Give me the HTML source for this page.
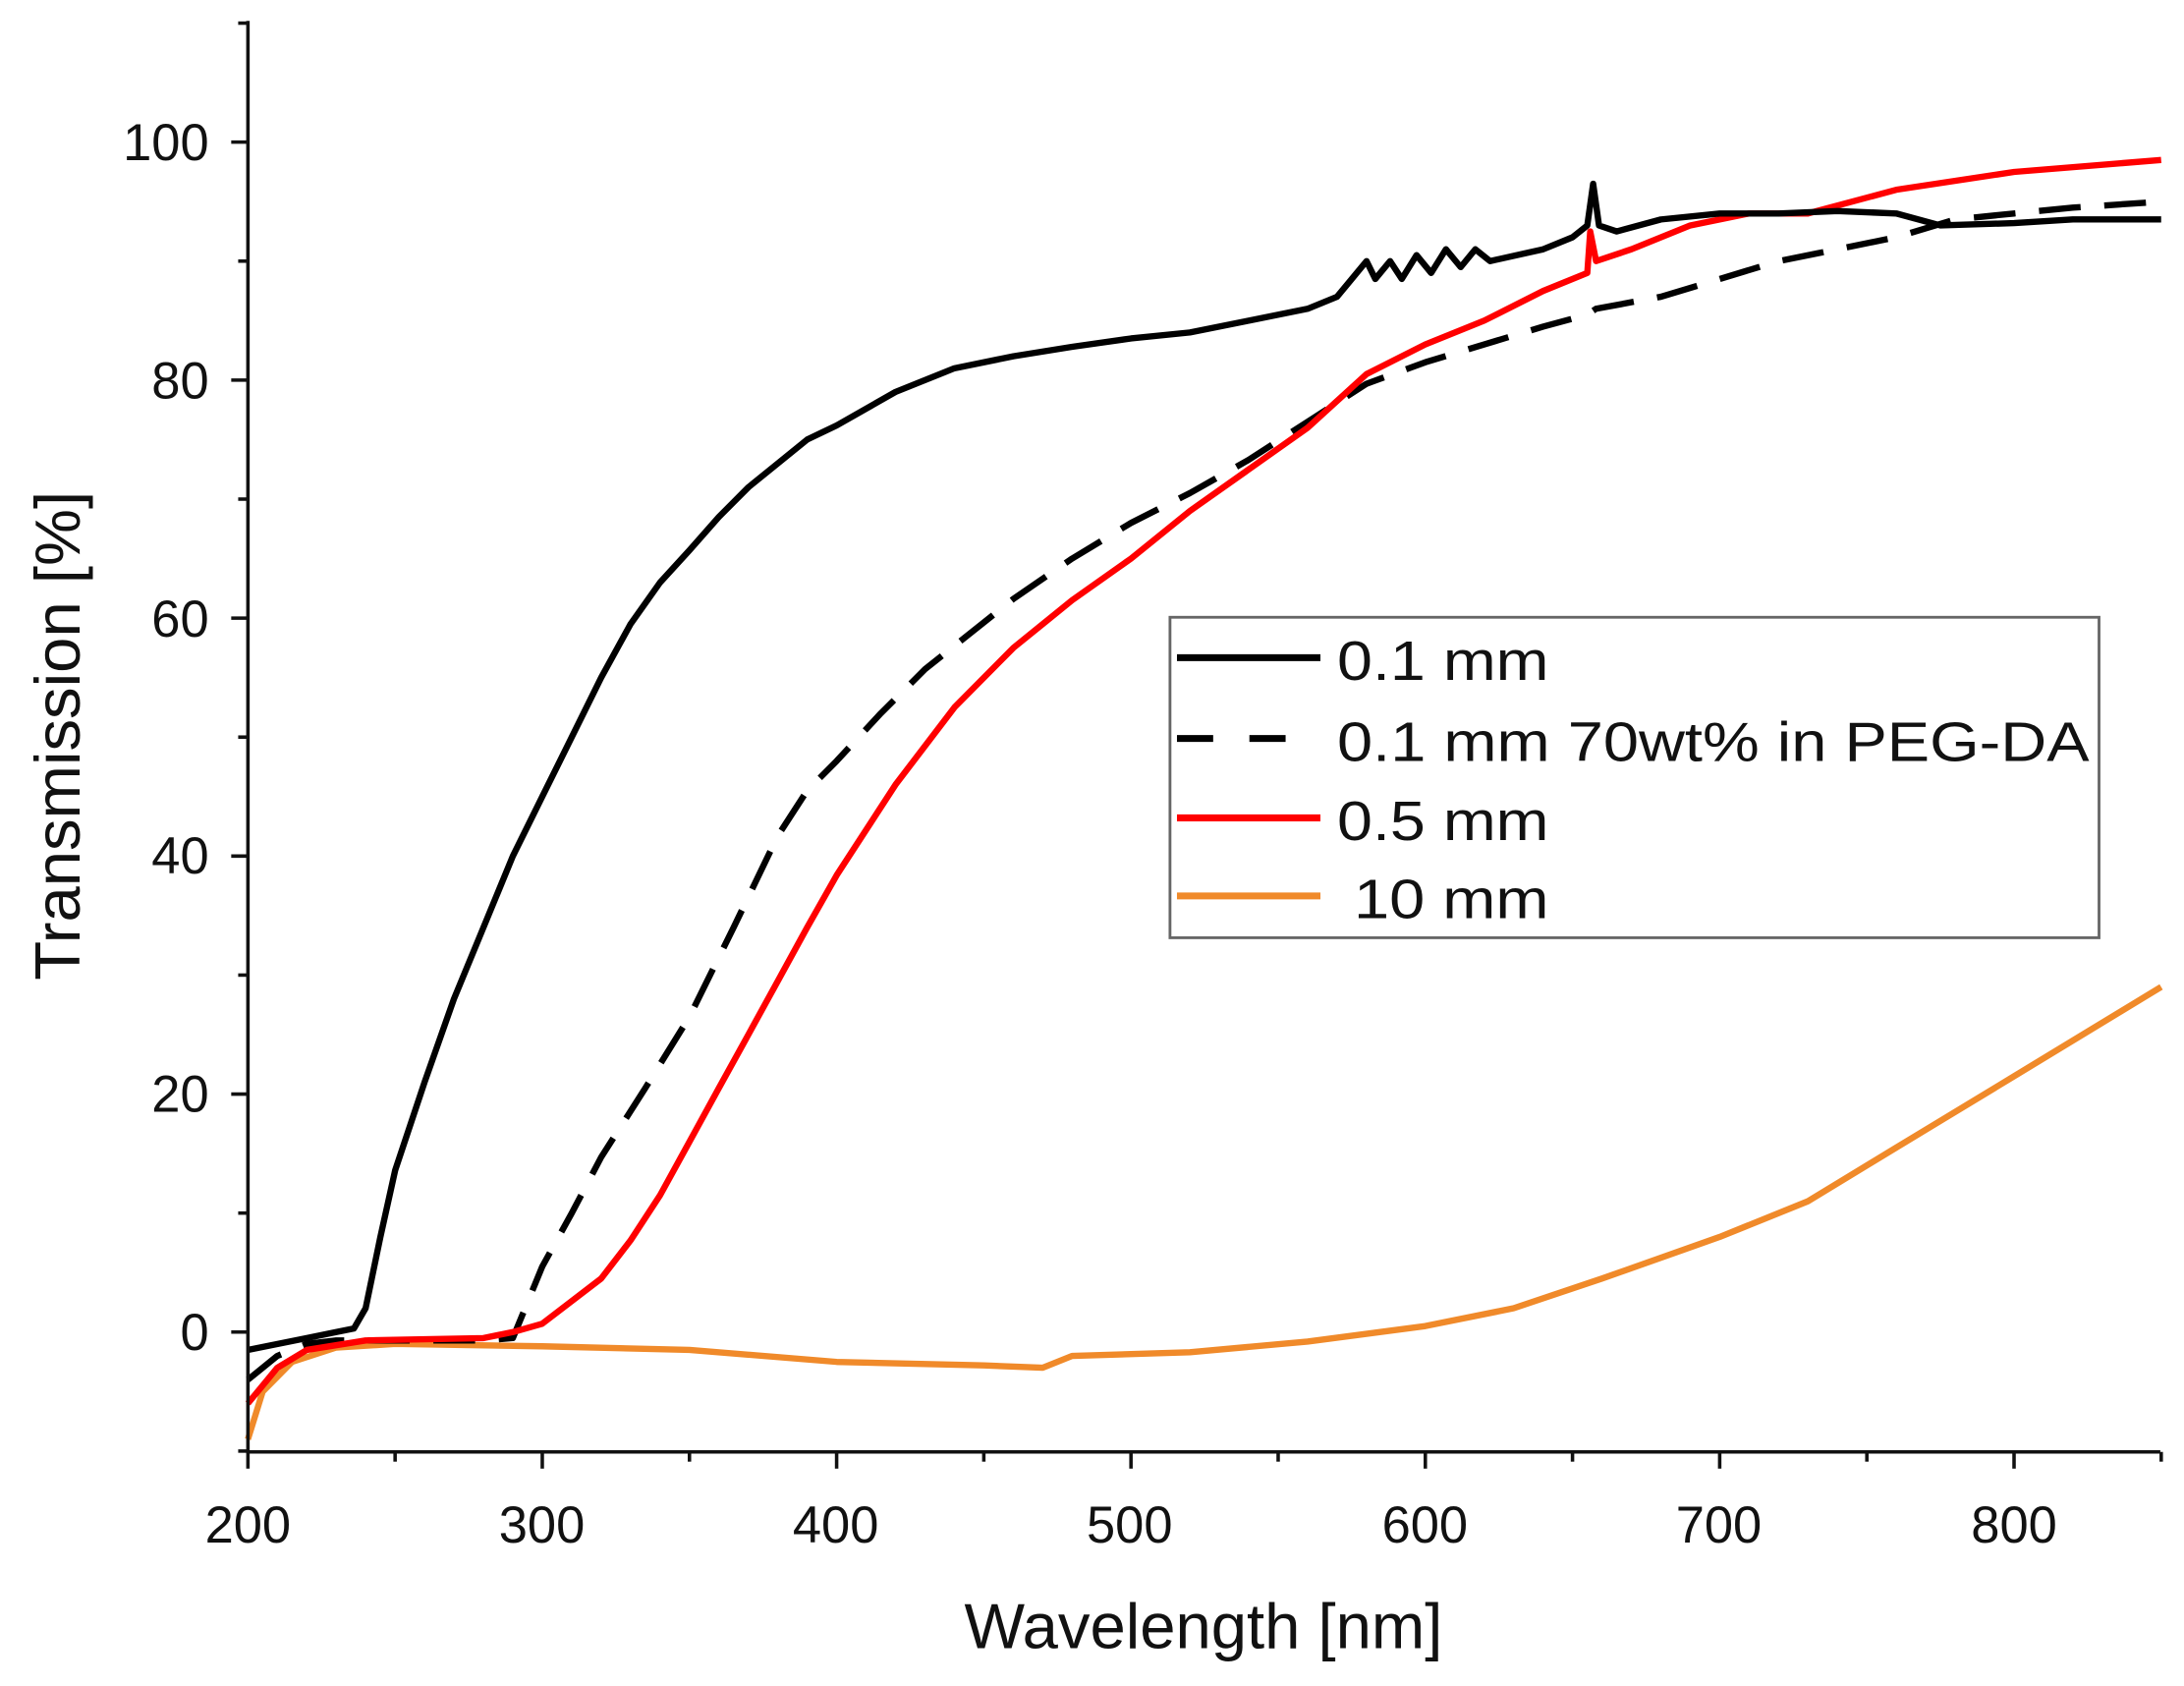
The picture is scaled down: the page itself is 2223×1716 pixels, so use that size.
<!DOCTYPE html>
<html><head><meta charset="utf-8"><style>
html,body{margin:0;padding:0;background:#fff}
svg{display:block}
text{font-family:"Liberation Sans",Arial,sans-serif;fill:#111}
</style></head><body>
<svg id="s" width="2223" height="1716" viewBox="0 0 1568 1210" preserveAspectRatio="none" xmlns="http://www.w3.org/2000/svg">
<g id="plot"></g>
<g stroke="#111" stroke-width="2.5" fill="none">
<line x1="178" y1="15" x2="178" y2="1043"/>
<line x1="177" y1="1042" x2="1551" y2="1042"/>
</g>
<g id="ticks" stroke="#111" stroke-width="2.5"></g>
<g font-size="37" text-anchor="middle">
<text x="178" y="1107">200</text><text x="389" y="1107">300</text><text x="600" y="1107">400</text>
<text x="811" y="1107">500</text><text x="1023" y="1107">600</text><text x="1234" y="1107">700</text><text x="1446" y="1107">800</text>
</g>
<g font-size="37" text-anchor="end">
<text x="150" y="969">0</text><text x="150" y="798">20</text><text x="150" y="627">40</text>
<text x="150" y="457">60</text><text x="150" y="286">80</text><text x="150" y="115">100</text>
</g>
<text x="864" y="1183" font-size="46" text-anchor="middle">Wavelength [nm]</text>
<text transform="translate(57,528) rotate(-90)" font-size="46" text-anchor="middle">Transmission [%]</text>
<rect x="840" y="443" width="667" height="230" fill="#fff" stroke="#666" stroke-width="2"/>
<g stroke-width="5">
<line x1="845" y1="472" x2="948" y2="472" stroke="#000"/>
<line x1="845" y1="530" x2="948" y2="530" stroke="#000" stroke-dasharray="26,26"/>
<line x1="845" y1="587" x2="948" y2="587" stroke="#f00"/>
<line x1="845" y1="643" x2="948" y2="643" stroke="#f08a2a"/>
</g>
<g font-size="40">
<text x="960" y="488" textLength="152" lengthAdjust="spacingAndGlyphs">0.1 mm</text>
<text x="960" y="546" textLength="540" lengthAdjust="spacingAndGlyphs">0.1 mm 70wt% in PEG-DA</text>
<text x="960" y="603" textLength="152" lengthAdjust="spacingAndGlyphs">0.5 mm</text>
<text x="972" y="659" textLength="140" lengthAdjust="spacingAndGlyphs">10 mm</text>
</g>
</svg>
<script>
var X=function(v){return 178+(v-200)*2.1133},Y=function(v){return 956-v*8.54};
function pl(pts,col,dash){var d=pts.map(function(p){return X(p[0]).toFixed(1)+","+Y(p[1]).toFixed(1)}).join(" ");
return '<polyline points="'+d+'" fill="none" stroke="'+col+'" stroke-width="4.5" stroke-linejoin="round"'+(dash?' stroke-dasharray="30,17"':'')+'/>';}
var orange=[[200,-9],[205,-5],[215,-2.5],[230,-1.3],[250,-1],[300,-1.2],[350,-1.5],[400,-2.5],[450,-2.8],[470,-3],[480,-2],[520,-1.7],[560,-0.8],[600,0.5],[630,2],[660,4.5],[700,8],[730,11],[760,15.5],[800,21.5],[850,29]];
var red=[[200,-6],[210,-3],[220,-1.5],[240,-0.7],[280,-0.5],[290,0],[300,0.7],[320,4.5],[330,7.7],[340,11.5],[350,16],[360,20.5],[370,25],[380,29.5],[390,34],[400,38.4],[420,46],[440,52.5],[460,57.5],[480,61.5],[500,65],[520,69],[540,72.5],[560,76],[580,80.5],[600,83],[620,85],[640,87.5],[655,89],[656,92.5],[658,90],[670,91],[690,93],[710,94],[730,94],[760,96],[800,97.5],[850,98.5]];
var dash=[[200,-4],[210,-2],[220,-1],[230,-0.7],[280,-0.7],[290,-0.5],[300,5.5],[310,10],[320,14.7],[335,20.5],[350,26.5],[365,34],[380,41.7],[390,45.5],[400,48],[415,52],[430,55.7],[460,61.6],[480,65],[500,68],[520,70.5],[540,73.3],[560,76.5],[580,79.7],[600,81.5],[620,83],[640,84.5],[655,85.5],[658,86],[680,87],[700,88.5],[720,90],[740,91],[760,92],[780,93.5],[800,94],[820,94.5],[850,95]];
var blk=[[200,-1.5],[220,-0.5],[230,0],[236,0.3],[240,2],[245,8],[250,13.6],[260,21],[270,28],[280,34],[290,40],[300,45],[310,50],[320,55],[330,59.5],[340,63],[350,65.7],[360,68.5],[370,71],[380,73],[390,75],[400,76.2],[420,79],[440,81],[460,82],[480,82.8],[500,83.5],[520,84],[540,85],[560,86],[570,87],[575,88.5],[580,90],[583,88.5],[588,90],[592,88.5],[597,90.5],[602,89],[607,91],[612,89.5],[617,91],[622,90],[640,91],[650,92],[655,93],[657,96.5],[659,93],[665,92.5],[680,93.5],[700,94],[720,94],[740,94.2],[760,94],[775,93],[800,93.2],[820,93.5],[850,93.5]];
document.getElementById('plot').innerHTML=pl(orange,'#f08a2a')+pl(dash,'#000',1)+pl(red,'#f00')+pl(blk,'#000');
var t='';for(var w=200;w<=850;w+=50){var x=X(w);t+='<line x1="'+x+'" y1="1042" x2="'+x+'" y2="'+(w%100==0?1054:1049)+'"/>';}
for(var v=-10;v<=110;v+=10){var y=Y(v);t+='<line x1="'+(v%20==0?166:171)+'" y1="'+y+'" x2="178" y2="'+y+'"/>';}
document.getElementById('ticks').innerHTML=t;
</script>
</body></html>
